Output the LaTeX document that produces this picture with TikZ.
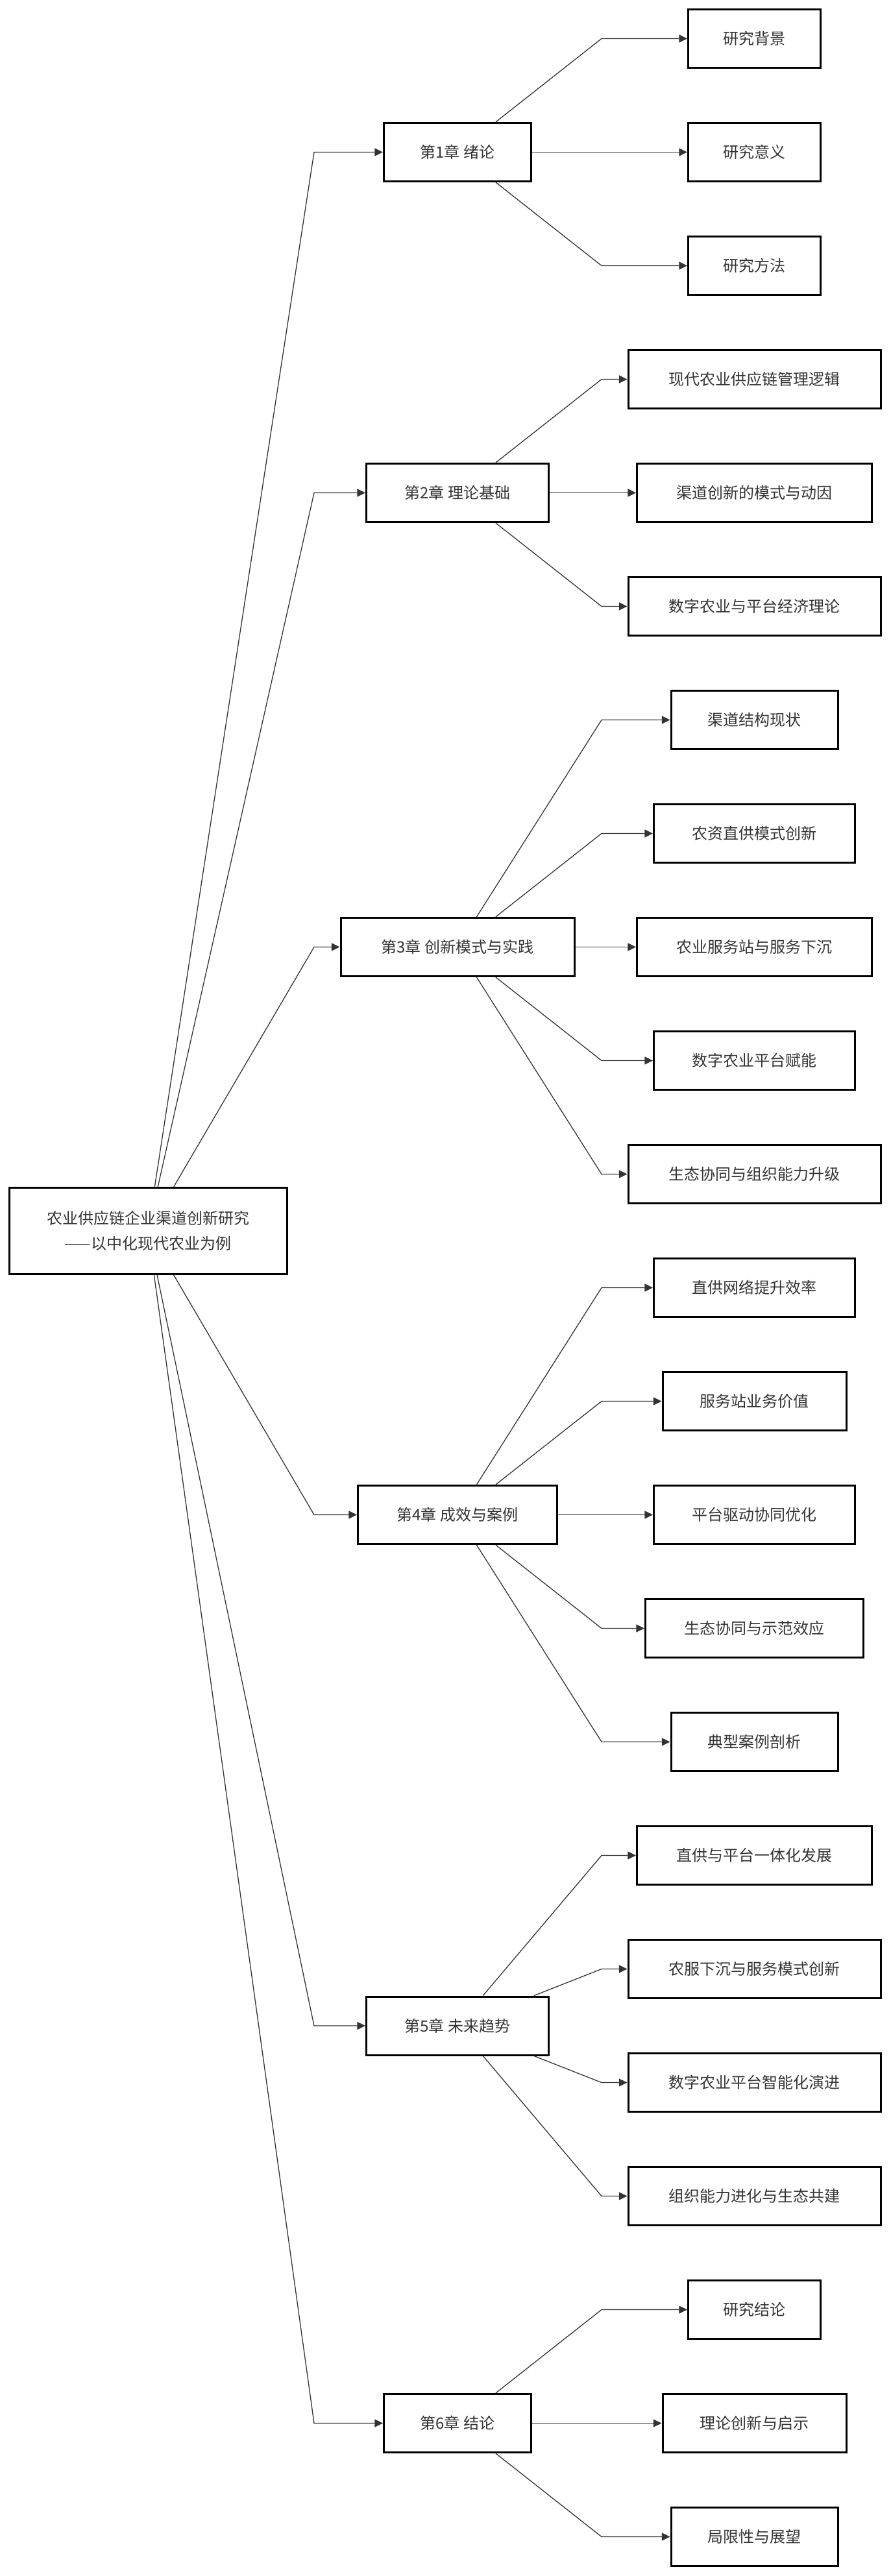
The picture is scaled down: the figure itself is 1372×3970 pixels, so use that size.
\documentclass[tikz,border=0pt]{standalone}
\usepackage{fontspec}
\newfontfamily\cjk{Noto Sans CJK SC}
\usetikzlibrary{arrows.meta}
\definecolor{ink}{HTML}{333333}
\tikzset{
  box/.style={draw=black,line width=1.5pt,minimum height=45pt,inner sep=0pt,
    text=ink,font=\cjk\fontsize{12pt}{19.5pt}\selectfont},
  link/.style={draw=ink,line width=0.65pt,-{Triangle[length=6.3pt,width=6pt]}}
}
\begin{document}
\begin{tikzpicture}[x=0.5pt,y=-0.5pt]
    \useasboundingbox (0,0) rectangle (1372,3970);
    \coordinate (rk) at (484,0);
    \coordinate (lk) at (927,0);
    % root and chapters
    \path (228,1897) node [box,minimum width=214pt,minimum height=66.5pt,align=center](root){农业供应链企业渠道创新研究\\——以中化现代农业为例};
    \path (705,234.5) node [box,minimum width=113.5pt](c1){第1章 绪论};
    \path (705,759.5) node [box,minimum width=140.5pt](c2){第2章 理论基础};
    \path (705,1459.5) node [box,minimum width=180pt](c3){第3章 创新模式与实践};
    \path (705,2334.5) node [box,minimum width=153.5pt](c4){第4章 成效与案例};
    \path (705,3122) node [box,minimum width=140.5pt](c5){第5章 未来趋势};
    \path (705,3734.5) node [box,minimum width=113.5pt](c6){第6章 结论};
    % sections
    \path (1162.5,59.5) node [box,minimum width=102pt](s1){研究背景};
    \path (1162.5,234.5) node [box,minimum width=102pt](s2){研究意义};
    \path (1162.5,409.5) node [box,minimum width=102pt](s3){研究方法};
    \path (1162.5,584.5) node [box,minimum width=194.5pt](s4){现代农业供应链管理逻辑};
    \path (1162.5,759.5) node [box,minimum width=181pt](s5){渠道创新的模式与动因};
    \path (1162.5,934.5) node [box,minimum width=194.5pt](s6){数字农业与平台经济理论};
    \path (1162.5,1109.5) node [box,minimum width=128.5pt](s7){渠道结构现状};
    \path (1162.5,1284.5) node [box,minimum width=155pt](s8){农资直供模式创新};
    \path (1162.5,1459.5) node [box,minimum width=181pt](s9){农业服务站与服务下沉};
    \path (1162.5,1634.5) node [box,minimum width=155pt](s10){数字农业平台赋能};
    \path (1162.5,1809.5) node [box,minimum width=194.5pt](s11){生态协同与组织能力升级};
    \path (1162.5,1984.5) node [box,minimum width=155pt](s12){直供网络提升效率};
    \path (1162.5,2159.5) node [box,minimum width=141.5pt](s13){服务站业务价值};
    \path (1162.5,2334.5) node [box,minimum width=155pt](s14){平台驱动协同优化};
    \path (1162.5,2509.5) node [box,minimum width=168pt](s15){生态协同与示范效应};
    \path (1162.5,2684.5) node [box,minimum width=128.5pt](s16){典型案例剖析};
    \path (1162.5,2859.5) node [box,minimum width=181pt](s17){直供与平台一体化发展};
    \path (1162.5,3034.5) node [box,minimum width=194.5pt](s18){农服下沉与服务模式创新};
    \path (1162.5,3209.5) node [box,minimum width=194.5pt](s19){数字农业平台智能化演进};
    \path (1162.5,3384.5) node [box,minimum width=194.5pt](s20){组织能力进化与生态共建};
    \path (1162.5,3559.5) node [box,minimum width=102pt](s21){研究结论};
    \path (1162.5,3734.5) node [box,minimum width=141.5pt](s22){理论创新与启示};
    \path (1162.5,3909.5) node [box,minimum width=128.5pt](s23){局限性与展望};
    % root to chapters
    \draw[link] (root) -- (rk |- c1) -- (c1);
    \draw[link] (root) -- (rk |- c2) -- (c2);
    \draw[link] (root) -- (rk |- c3) -- (c3);
    \draw[link] (root) -- (rk |- c4) -- (c4);
    \draw[link] (root) -- (rk |- c5) -- (c5);
    \draw[link] (root) -- (rk |- c6) -- (c6);
    % chapters to sections
    \draw[link] (c1) -- (lk |- s1) -- (s1);
    \draw[link] (c1) -- (lk |- s2) -- (s2);
    \draw[link] (c1) -- (lk |- s3) -- (s3);
    \draw[link] (c2) -- (lk |- s4) -- (s4);
    \draw[link] (c2) -- (lk |- s5) -- (s5);
    \draw[link] (c2) -- (lk |- s6) -- (s6);
    \draw[link] (c3) -- (lk |- s7) -- (s7);
    \draw[link] (c3) -- (lk |- s8) -- (s8);
    \draw[link] (c3) -- (lk |- s9) -- (s9);
    \draw[link] (c3) -- (lk |- s10) -- (s10);
    \draw[link] (c3) -- (lk |- s11) -- (s11);
    \draw[link] (c4) -- (lk |- s12) -- (s12);
    \draw[link] (c4) -- (lk |- s13) -- (s13);
    \draw[link] (c4) -- (lk |- s14) -- (s14);
    \draw[link] (c4) -- (lk |- s15) -- (s15);
    \draw[link] (c4) -- (lk |- s16) -- (s16);
    \draw[link] (c5) -- (lk |- s17) -- (s17);
    \draw[link] (c5) -- (lk |- s18) -- (s18);
    \draw[link] (c5) -- (lk |- s19) -- (s19);
    \draw[link] (c5) -- (lk |- s20) -- (s20);
    \draw[link] (c6) -- (lk |- s21) -- (s21);
    \draw[link] (c6) -- (lk |- s22) -- (s22);
    \draw[link] (c6) -- (lk |- s23) -- (s23);
  \end{tikzpicture}
\end{document}
